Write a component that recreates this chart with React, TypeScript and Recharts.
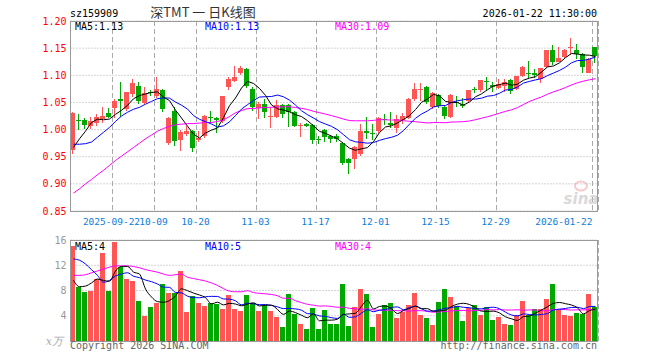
import React from 'react';
import { ComposedChart, Bar, Line, XAxis, YAxis, CartesianGrid } from 'recharts';

// ---- data ----
const opens = [0.962,1.018,1.018,1.007,1.012,1.019,1.031,1.040,1.057,1.038,1.065,1.080,1.049,1.069,1.062,1.072,0.975,1.034,0.981,0.991,0.998,0.980,0.988,1.024,1.021,1.015,1.079,1.089,1.105,1.111,1.074,1.040,1.047,1.024,1.024,1.046,1.046,1.033,1.006,1.011,1.008,0.983,1.000,0.988,0.988,0.976,0.945,0.945,0.955,0.998,0.994,0.998,1.020,1.013,1.002,1.017,1.022,1.056,1.073,1.079,1.041,1.064,1.041,1.023,1.051,1.048,1.052,1.074,1.072,1.089,1.083,1.076,1.080,1.092,1.075,1.099,1.104,1.104,1.093,1.116,1.147,1.125,1.133,1.151,1.147,1.140,1.105,1.152];
const highs = [1.032,1.029,1.022,1.024,1.029,1.042,1.040,1.056,1.087,1.070,1.094,1.088,1.078,1.073,1.097,1.075,1.024,1.041,0.999,1.006,1.000,0.997,1.027,1.034,1.023,1.062,1.096,1.117,1.118,1.113,1.079,1.050,1.056,1.040,1.054,1.048,1.048,1.035,1.012,1.013,1.010,0.989,1.001,0.990,0.992,0.978,0.948,0.970,1.011,1.023,1.011,1.024,1.028,1.033,1.027,1.030,1.058,1.085,1.085,1.081,1.069,1.066,1.043,1.066,1.061,1.058,1.073,1.079,1.092,1.097,1.087,1.093,1.093,1.094,1.099,1.117,1.127,1.111,1.114,1.147,1.156,1.152,1.149,1.168,1.157,1.141,1.132,1.153];
const lows = [0.955,1.000,1.001,1.001,1.007,1.012,1.021,1.021,1.023,1.035,1.060,1.048,1.047,1.062,1.058,1.033,0.972,0.969,0.961,0.989,0.959,0.977,0.985,1.014,0.994,1.012,1.073,1.087,1.100,1.077,1.034,1.019,1.022,1.002,1.022,1.022,1.005,1.004,0.987,1.005,0.973,0.973,0.978,0.976,0.977,0.935,0.919,0.928,0.952,0.983,0.980,0.993,1.008,1.002,0.994,1.010,1.020,1.052,1.053,1.047,1.038,1.040,1.019,1.021,1.041,1.040,1.050,1.067,1.070,1.072,1.070,1.074,1.070,1.066,1.072,1.097,1.095,1.095,1.085,1.114,1.119,1.124,1.131,1.138,1.130,1.105,1.104,1.122];
const closes = [1.031,1.017,1.009,1.016,1.023,1.025,1.024,1.052,1.053,1.069,1.086,1.053,1.067,1.067,1.074,1.038,1.021,0.979,0.995,0.998,0.966,0.984,1.025,1.022,1.018,1.061,1.094,1.096,1.113,1.080,1.042,1.048,1.032,1.025,1.045,1.029,1.032,1.006,1.008,1.007,0.981,0.982,0.987,0.983,0.982,0.938,0.939,0.967,0.997,0.993,0.993,1.022,1.019,1.008,1.019,1.025,1.057,1.075,1.075,1.050,1.067,1.043,1.025,1.064,1.050,1.043,1.072,1.073,1.091,1.088,1.078,1.084,1.087,1.071,1.098,1.115,1.103,1.100,1.113,1.146,1.124,1.132,1.147,1.152,1.140,1.116,1.130,1.135];
const volumes = [15.05,8.56,7.77,7.92,9.78,13.95,7.92,15.74,11.73,9.78,9.46,6.29,3.96,5.39,6.08,8.99,7.61,7.61,11.05,4.6,7.13,6.03,5.55,6.08,5.92,5.02,7.24,5.02,4.7,7.24,6.08,4.7,5.66,4.7,3.81,2.22,7.4,4.34,2.65,1.85,5.29,1.85,4.87,2.65,2.65,8.99,2.33,5.34,8.19,7.4,2.17,4.23,5.77,5.98,3.6,4.6,5.77,7.56,4.07,3.6,2.49,6.13,8.19,6.92,5.5,3.12,5.18,5.77,4.07,5.34,3.28,3.76,2.7,2.49,4.07,6.29,4.18,5.02,5.02,6.6,8.99,4.87,4.07,3.96,4.39,4.23,7.4,5.34];

const priceMa5Lead = [0.967,0.983,0.997,1.013];
const priceMa10Lead = [0.973,0.973,0.974,0.977,0.986,0.995,1.004,1.015,1.025];
const priceMa30Lead = [0.883,0.891,0.900,0.908,0.917,0.925,0.934,0.943,0.951,0.959,0.967,0.975,0.983,0.990,0.997,1.002,1.006,1.009,1.010,1.011,1.011,1.012,1.013,1.013,1.015,1.018,1.024,1.031,1.035];
const volMa5Lead = [9.6,8.6,8.7,9.2];
const volMa10Lead = [13.0,12.8,12.2,11.3,10.4,9.3,9.6,10.3,10.6];
const volMa30Lead = [10.4,10.4,10.5,10.8,11.1,11.4,11.7,11.9,11.9,11.9,11.8,11.6,11.3,11.1,10.9,10.6,10.4,10.5,10.6,10.1,9.9,9.7,9.5,9.2,8.8,8.3,7.9,7.8,7.8];

const dateIdx = [7,14,21,31,41,51,61,71,87];
const dateLabels = ['2025-09-22','10-09','10-20','11-03','11-17','12-01','12-15','12-29','2026-01-22'];
const priceTicks = [0.85,0.9,0.95,1.0,1.05,1.1,1.15,1.2];
const volTicks = [0,4,8,12,16];
const volMaLabels = ['MA5:4','MA10:5','MA30:4'];
const symbol = 'sz159909';
const title = '深TMT 一 日K线图';
const stamp = '2026-01-22 11:30:00';

// ---- derived ----
const movingAvg = (arr: number[], n: number, lead: number[]) =>
  arr.map((_, i) => {
    if (i < n - 1) return lead[i];
    let s = 0;
    for (let k = i - n + 1; k <= i; k++) s += arr[k];
    return s / n;
  });

const ma5 = movingAvg(closes, 5, priceMa5Lead);
const ma10 = movingAvg(closes, 10, priceMa10Lead);
const ma30 = movingAvg(closes, 30, priceMa30Lead);
const vma5 = movingAvg(volumes, 5, volMa5Lead);
const vma10 = movingAvg(volumes, 10, volMa10Lead);
const vma30 = movingAvg(volumes, 30, volMa30Lead);

const data = closes.map((c, i) => ({
  x: i + 0.5,
  open: opens[i],
  high: highs[i],
  low: lows[i],
  close: c,
  vol: volumes[i],
  up: c >= opens[i],
  ma5: ma5[i],
  ma10: ma10[i],
  ma30: ma30[i],
  vma5: vma5[i],
  vma10: vma10[i],
  vma30: vma30[i],
}));

const UP = '#ff5555';
const DOWN = '#00a800';
const MONO = '"DejaVu Sans Mono", monospace';
const GRID = '#aaaaaa';
const N = closes.length;

function CandleShape(props: any) {
  const { x, y, width, height, payload } = props;
  if (x == null || y == null || !payload) return <g />;
  const top = Math.min(y, y + height);
  const h = Math.abs(height);
  const { open, close, high, low } = payload;
  const span = high - low;
  const py = (v: number) => (span > 0 ? top + ((high - v) / span) * h : top);
  const color = close >= open ? UP : DOWN;
  const c = Math.floor(x + width / 2 + 0.25);
  const yt = Math.round(py(Math.max(open, close)));
  const yb = Math.max(yt + 1, Math.round(py(Math.min(open, close))));
  return (
    <g>
      <line x1={c - 0.5} x2={c - 0.5} y1={Math.round(top)} y2={Math.round(top + h)} stroke={color} strokeWidth={1} />
      <rect x={c - 3} y={yt} width={5} height={yb - yt} fill={color} />
    </g>
  );
}

function VolShape(props: any) {
  const { x, y, width, height, payload } = props;
  if (x == null || y == null || !payload) return <g />;
  const c = Math.floor(x + width / 2 + 0.25);
  const t = Math.round(Math.min(y, y + height));
  const b = Math.round(Math.max(y, y + height));
  return <rect x={c - 3} y={t} width={5} height={Math.max(1, b - t)} fill={payload.up ? UP : DOWN} />;
}

const PriceTick = (props: any) => {
  const { x, y, payload } = props;
  return (
    <text x={x} y={y} dy={3.5} textAnchor="end" fill="#ff0000" fontSize={10} fontFamily={MONO}>
      {Number(payload.value).toFixed(2)}
    </text>
  );
};

const VolTick = (props: any) => {
  const { x, y, payload } = props;
  if (payload.value === 0) return <g />;
  return (
    <text x={x} y={y} dy={3.5} textAnchor="end" fill="#999999" fontSize={10} fontFamily={MONO}>
      {payload.value}
    </text>
  );
};

const DateTick = (props: any) => {
  const { x, y, payload } = props;
  const k = dateIdx.indexOf(payload.value);
  if (k < 0) return <g />;
  const last = k === dateIdx.length - 1;
  return (
    <text x={last ? x : x - 1} y={y} dy={13.5} textAnchor={last ? 'end' : 'middle'} fill="#0a7ddc" fontSize={9.5} fontFamily={MONO}>
      {dateLabels[k]}
    </text>
  );
};

export default function App() {
  const abs = (top: number, h: number): React.CSSProperties => ({ position: 'absolute', left: 0, top, width: 660, height: h });
  return (
    <div style={{ position: 'absolute', left: 0, top: 0, width: 660, height: 360, background: '#fff', overflow: 'hidden' }}>
      <div style={abs(0, 230)}>
        <ComposedChart width={660} height={230} data={data} margin={{ top: 21, right: 61.5, bottom: 0, left: 10.5 }}>
          <CartesianGrid horizontal vertical={false} stroke={GRID} strokeDasharray="1 2" />
          <CartesianGrid horizontal={false} vertical stroke={GRID} strokeDasharray="5 3" />
          <XAxis type="number" dataKey="x" domain={[0, N]} ticks={dateIdx} interval={0} allowDataOverflow
            axisLine={false} tickLine={false} tickSize={0} tickMargin={0} tick={<DateTick />} height={19} />
          <YAxis type="number" domain={[0.85, 1.2]} ticks={priceTicks} allowDataOverflow width={60}
            axisLine={false} tickLine={false} tickSize={0} tickMargin={4} tick={<PriceTick />} interval={0} />
          <Bar dataKey={(d: any) => [d.low, d.high]} barSize={5} shape={(p: any) => <CandleShape {...p} />} isAnimationActive={false} />
          <Line dataKey="ma30" stroke="#ff00ff" strokeWidth={1} dot={false} type="linear" isAnimationActive={false} />
          <Line dataKey="ma10" stroke="#0000ff" strokeWidth={1} dot={false} type="linear" isAnimationActive={false} />
          <Line dataKey="ma5" stroke="#000000" strokeWidth={1} dot={false} type="linear" isAnimationActive={false} />
        </ComposedChart>
      </div>
      <div style={abs(230, 130)}>
        <ComposedChart width={660} height={130} data={data} margin={{ top: 10, right: 61.5, bottom: 0, left: 10.5 }}>
          <CartesianGrid horizontal vertical={false} stroke={GRID} strokeDasharray="1 2" />
          <CartesianGrid horizontal={false} vertical stroke={GRID} strokeDasharray="5 3" />
          <XAxis type="number" dataKey="x" domain={[0, N]} ticks={dateIdx} interval={0} allowDataOverflow
            axisLine={false} tickLine={false} tick={false} height={19} />
          <YAxis type="number" domain={[0, 16]} ticks={volTicks} allowDataOverflow width={60}
            axisLine={false} tickLine={false} tickSize={0} tickMargin={4} tick={<VolTick />} interval={0} />
          <Bar dataKey="vol" barSize={5} shape={(p: any) => <VolShape {...p} />} isAnimationActive={false} />
          <Line dataKey="vma30" stroke="#ff00ff" strokeWidth={1} dot={false} type="monotone" isAnimationActive={false} />
          <Line dataKey="vma10" stroke="#0000ff" strokeWidth={1} dot={false} type="monotone" isAnimationActive={false} />
          <Line dataKey="vma5" stroke="#000000" strokeWidth={1} dot={false} type="monotone" isAnimationActive={false} />
        </ComposedChart>
      </div>
      <div style={{ position: 'absolute', left: 70, top: 21, width: 528, height: 191, border: '1px solid #999', boxSizing: 'border-box', pointerEvents: 'none' }} />
      <div style={{ position: 'absolute', left: 70, top: 240, width: 528, height: 102, border: '1px solid #999', boxSizing: 'border-box', pointerEvents: 'none' }} />
      <svg width={660} height={360} style={{ position: 'absolute', left: 0, top: 0, pointerEvents: 'none' }}>
        <text x={70} y={16.5} fontSize={10} fontFamily={MONO} fill="#000">{symbol}</text>
        <text x={203} y={17} fontSize={13} fontFamily='"Noto Sans CJK SC", sans-serif' fill="#333" textAnchor="middle" xmlSpace="preserve">{title}</text>
        <text x={597} y={16.5} fontSize={10} fontFamily={MONO} fill="#000" textAnchor="end">{stamp}</text>
        <text x={75} y={29.5} fontSize={10} fontFamily={MONO} fill="#000">{`MA5:${ma5[N - 1].toFixed(2)}`}</text>
        <text x={205} y={29.5} fontSize={10} fontFamily={MONO} fill="#0000ff">{`MA10:${ma10[N - 1].toFixed(2)}`}</text>
        <text x={335} y={29.5} fontSize={10} fontFamily={MONO} fill="#ff00ff">{`MA30:${ma30[N - 1].toFixed(2)}`}</text>
        <text x={75} y={250} fontSize={10} fontFamily={MONO} fill="#000">{volMaLabels[0]}</text>
        <text x={205} y={250} fontSize={10} fontFamily={MONO} fill="#0000ff">{volMaLabels[1]}</text>
        <text x={335} y={250} fontSize={10} fontFamily={MONO} fill="#ff00ff">{volMaLabels[2]}</text>
        <text x={63} y={345} fontSize={11} fontFamily='"DejaVu Serif", serif' fontStyle="italic" fill="#aaa" textAnchor="end">x万</text>
        <text x={70} y={349} fontSize={10} fontFamily={MONO} fill="#666">Copyright 2026 SINA.COM</text>
        <text x={597} y={349} fontSize={10} fontFamily={MONO} fill="#666" textAnchor="end">http://finance.sina.com.cn</text>
        <g opacity={0.55}>
          <ellipse cx={581} cy={186} rx={6} ry={4.5} fill="none" stroke="#f0a0a0" strokeWidth={2} />
          <text x={581} y={204} fontSize={15} fontFamily='"DejaVu Sans", sans-serif' fontWeight="bold" fontStyle="italic" fill="#bbb" textAnchor="middle">sina</text>
        </g>
      </svg>
    </div>
  );
}
